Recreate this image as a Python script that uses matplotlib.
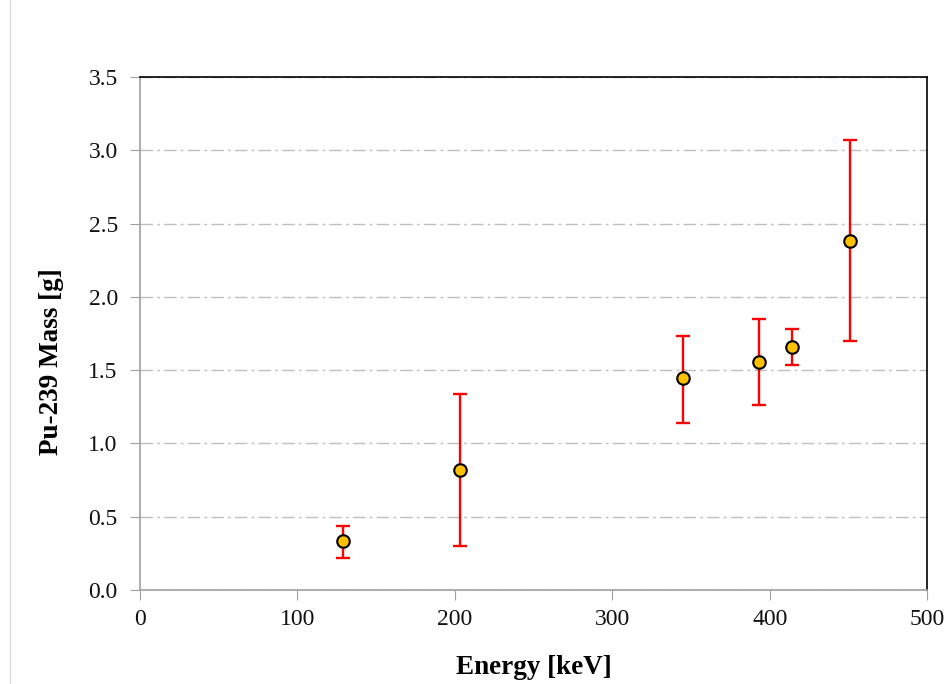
import matplotlib.pyplot as plt
from matplotlib.lines import Line2D

# Pu-239 mass estimates per gamma line
energy_kev = [129, 203, 345, 393, 414, 451]
mass_g = [0.334, 0.82, 1.445, 1.558, 1.660, 2.383]
err_low = [0.22, 0.30, 1.142, 1.263, 1.533, 1.701]
err_high = [0.44, 1.335, 1.731, 1.849, 1.781, 3.070]

yerr = [[m - lo for m, lo in zip(mass_g, err_low)],
        [hi - m for m, hi in zip(mass_g, err_high)]]

plt.rcParams["font.family"] = ["Liberation Serif", "DejaVu Serif"]

fig = plt.figure(figsize=(9.49, 6.84), dpi=100)
ax = fig.add_axes([0.1475, 0.1374, 0.8298, 0.75])

ax.errorbar(energy_kev, mass_g, yerr=yerr, fmt="none", ecolor="#FF0000",
            elinewidth=1.7, capsize=5, capthick=1.7, zorder=3)
ax.plot(energy_kev, mass_g, "o", markersize=9, markerfacecolor="#FFC000",
        markeredgecolor="black", markeredgewidth=1.5, zorder=4)

ax.set_xlim(0, 500)
ax.set_ylim(0, 3.5)
ax.set_xticks(range(0, 501, 100))
ax.set_yticks([i * 0.5 for i in range(8)])
ax.set_yticklabels(["%.1f" % (i * 0.5) for i in range(8)])

ax.grid(axis="y", color="#BFBFBF", linestyle=(0, (9, 3, 2, 3)), linewidth=1)
ax.set_axisbelow(True)

ax.tick_params(direction="out", length=7, color="#A0A0A0", labelsize=17,
               labelcolor="#111111")
ax.tick_params(axis="x", pad=7)
ax.tick_params(axis="y", pad=9)
ax.spines["left"].set_color("#A0A0A0")
ax.spines["bottom"].set_color("#A0A0A0")
ax.spines["top"].set_color("black")
ax.spines["right"].set_color("black")
for s in ax.spines.values():
    s.set_linewidth(1.2)

ax.set_xlabel("Energy [keV]", fontsize=19.5, fontweight="bold", labelpad=18)
ax.set_ylabel("Pu-239 Mass [g]", fontsize=19.5, fontweight="bold")
ax.yaxis.set_label_coords(-0.097, 0.446)

# outer chart border on the left
fig.add_artist(Line2D([10 / 949, 10 / 949], [0, 1], color="#D9D9D9", linewidth=1))

fig.savefig("out.png", dpi=100)
